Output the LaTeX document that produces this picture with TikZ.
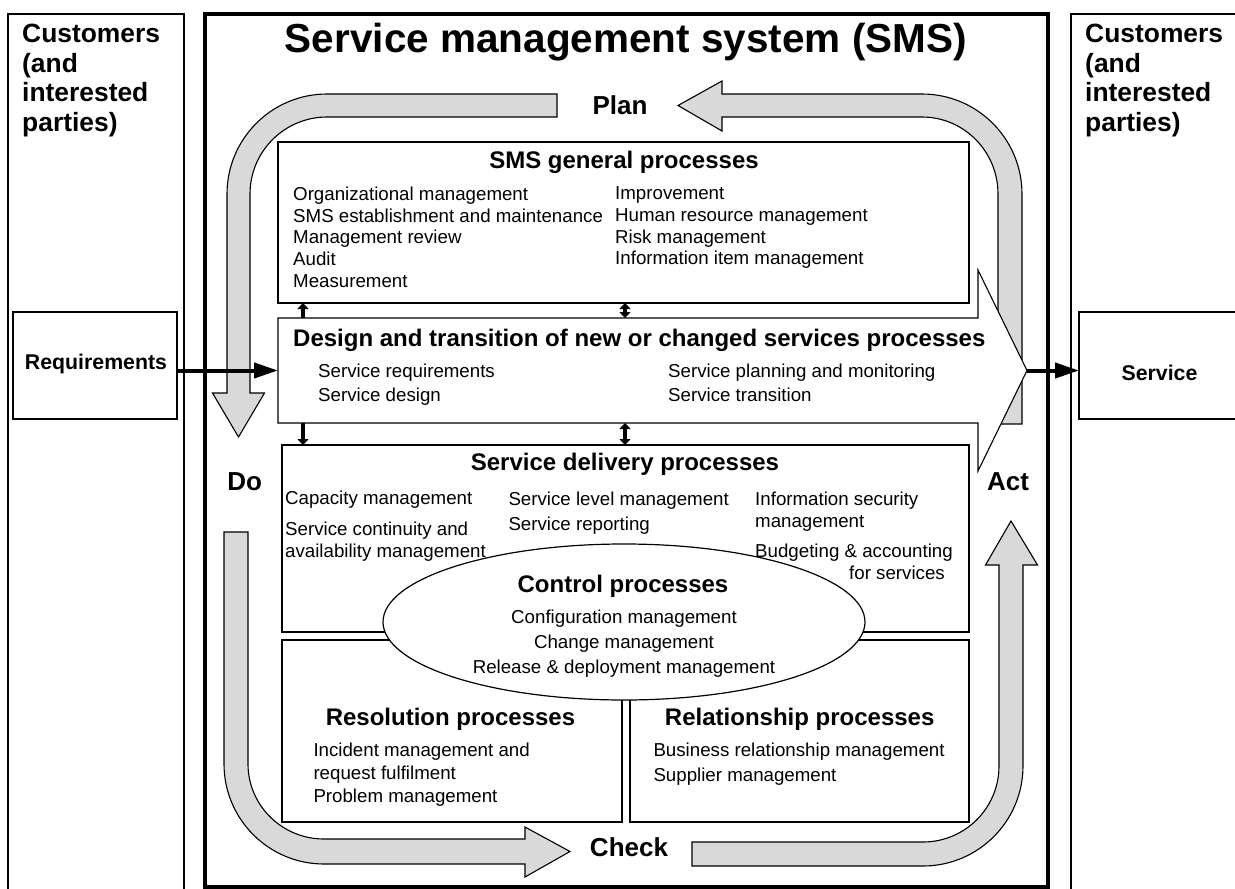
\documentclass[tikz,border=0pt]{standalone}
\usepackage{fontspec}
\setmainfont{Liberation Sans}
\usetikzlibrary{arrows.meta,shapes.geometric}
\newcommand{\fsz}[2]{\fontsize{#1}{#2}\selectfont}
\definecolor{bandgray}{gray}{0.85}
\begin{document}
\begin{tikzpicture}[x=1pt,y=-1pt,
	box/.style={draw,line width=1.2pt,inner sep=0,outer sep=0,anchor=north west},
	band/.style={draw,fill=bandgray,line width=1.1pt},
	lbl/.style={inner sep=0,anchor=base,font=\fsz{26}{30}\bfseries},
	head/.style={inner sep=0,anchor=base,font=\fsz{24}{28}\bfseries},
	item/.style={inner sep=0,anchor=north west,align=left,font=\fsz{18.7}{21.8}},
	cust/.style={item,font=\fsz{26.4}{29.5}\bfseries},
	link/.style={line width=3.5pt},
	flow/.style={line width=4pt,-{Triangle[width=15pt,length=24pt]}},
	>={Triangle[width=11pt,length=6pt]}]
\useasboundingbox (0,0) rectangle (1235,889);
\node[box,minimum width=176,minimum height=890] (custL) at (8,14) {};
\node[box,minimum width=180,minimum height=890] (custR) at (1071,14) {};
\node[box,line width=4pt,minimum width=843,minimum height=873] (sms) at (205,14) {};
\node[box,minimum width=164,minimum height=107] (req) at (13,312) {};
\node[box,minimum width=170,minimum height=107] (serv) at (1079,312) {};
\draw[band] (557,94) -- (327,94) .. controls (271.8,94) and (227,138.8) .. (227,194) -- (227,393)
	-- (212.5,393) -- (238.5,437) -- (264.5,393) -- (250,393) -- (250,194)
	.. controls (250,151.5) and (284.5,117) .. (327,117) -- (557,117) -- cycle;
\draw[band] (224,532) -- (224,764) .. controls (224,819.2) and (268.8,864) .. (324,864) -- (525,864)
	-- (525,877) -- (570,851.5) -- (525,827) -- (525,839) -- (324,839)
	.. controls (282,839) and (248,805.4) .. (248,764) -- (248,532) -- cycle;
\draw[band] (692,842) -- (923,842) .. controls (965,842) and (999,808) .. (999,766) -- (999,565)
	-- (985.5,565) -- (1011,521) -- (1037.5,565) -- (1023,565) -- (1023,766)
	.. controls (1023,821.2) and (978.2,866) .. (923,866) -- (692,866) -- cycle;
\draw[band] (998,424) -- (998,194) .. controls (998,151.5) and (964,117) .. (922,117) -- (722,117)
	-- (722,131) -- (678,105.5) -- (722,81) -- (722,94) -- (922,94)
	.. controls (977.2,94) and (1022,138.8) .. (1022,194) -- (1022,424) -- cycle;
\node[box,minimum width=691,minimum height=161] (gen) at (278,142) {};
\node[inner sep=0,outer sep=0,minimum width=700,minimum height=105] (design) at (628,370.5) {};
\draw[line width=1.1pt,fill=white] (design.north west) -- (design.north east) -- ++(0,-48)
	-- ++(49,100.5) coordinate (dtip) -- ++(-49,100.5) -- (design.south east) -- (design.south west) -- cycle;
\node[box,minimum width=687,minimum height=187] (deliv) at (282,445) {};
\node[box,minimum width=340,minimum height=182] (resol) at (282,640) {};
\node[box,minimum width=339,minimum height=182] (relat) at (630,640) {};
\node[draw,ellipse,fill=white,line width=1.2pt,inner sep=0,minimum width=482,minimum height=156] (ctrl) at (624,622) {};
\node[inner sep=0,anchor=base,font=\fsz{40.5}{44}\bfseries] (title) at (626,52) {Service management system (SMS)};
\node[cust] (custLt) at (22,24) {Customers\\(and\\interested\\parties)};
\node[cust] (custRt) at (1085,24) {Customers\\(and\\interested\\parties)};
\node[head,font=\fsz{21.3}{24}\bfseries] (reqT) at (96,369) {Requirements};
\node[head,font=\fsz{21.3}{24}\bfseries] (servT) at (1159.5,380) {Service};
\node[lbl] (plan) at (620,114) {Plan};
\node[lbl] (do) at (244.7,490.7) {Do};
\node[lbl] (act) at (1008,490.7) {Act};
\node[lbl] (check) at (629,856.7) {Check};
\node[head] (genT) at (624,168) {SMS general processes};
\node[item] (genL) at (293,186.5) {Organizational management\\SMS establishment and maintenance\\Management review\\Audit\\Measurement};
\node[item] (genR) at (615,186.5) {Improvement\\Human resource management\\Risk management\\Information item management};
\node[head,anchor=base west] (dsgT) at (293,346.7) {Design and transition of new or changed services processes};
\node[item,font=\fsz{18.7}{24.5}] (dsgL) at (318,363.5) {Service requirements\\Service design};
\node[item,font=\fsz{18.7}{24.5}] (dsgR) at (668,363.5) {Service planning and monitoring\\Service transition};
\node[head] (delT) at (625,470.7) {Service delivery processes};
\node[item] (delA) at (285,490.5) {Capacity management\\[9.2pt]Service continuity and\\availability management};
\node[item,font=\fsz{18.7}{25}] (delB) at (508.3,491.5) {Service level management\\Service reporting};
\node[item,font=\fsz{18.7}{22.5}] (delC) at (755,491.5) {Information security\\management\\[7pt]Budgeting \& accounting\\\hspace*{94pt}for services};
\node[head] (ctrlT) at (623,592.7) {Control processes};
\node[item,align=center,anchor=north,font=\fsz{18.7}{25}] (ctrlL) at (624,609.8) {Configuration management\\Change management\\Release \& deployment management};
\node[head] (resT) at (450.5,725) {Resolution processes};
\node[item,font=\fsz{18.7}{23}] (resL) at (313.3,743.2) {Incident management and\\request fulfilment\\Problem management};
\node[head] (relT) at (799.7,725) {Relationship processes};
\node[item,font=\fsz{18.7}{25}] (relL) at (653.3,743.2) {Business relationship management\\Supplier management};
\coordinate (l1) at (303,0);
\coordinate (l2) at (625,0);
\draw[link,->] (design.north -| l1) -- (gen.south -| l1);
\draw[link,->] (design.south -| l1) -- (deliv.north -| l1);
\draw[link,<->] (design.north -| l2) -- (gen.south -| l2);
\draw[link,<->] (design.south -| l2) -- (deliv.north -| l2);
\draw[flow] (req.east |- design.west) -- (design.west);
\draw[flow] (dtip) -- (serv.west |- dtip);
\end{tikzpicture}
\end{document}
